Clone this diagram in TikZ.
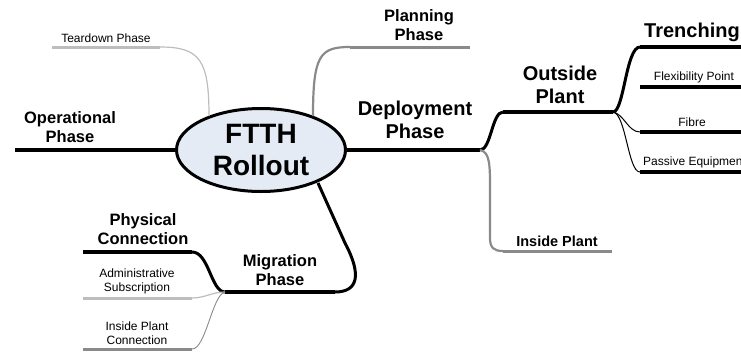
\documentclass[tikz,border=0pt]{standalone}
\usepackage{fontspec}
\setmainfont{Liberation Sans}
\usetikzlibrary{shapes.geometric}
\definecolor{rootfill}{HTML}{E5EBF5}
\definecolor{lightg}{HTML}{BDBDBD}
\definecolor{midg}{HTML}{8A8A8A}
\begin{document}
\begin{tikzpicture}[x=1pt,y=-1pt,
  mainline/.style={line width=3.5pt,black},
  thickcon/.style={line width=3pt,black},
  thincon/.style={line width=1pt,black},
  lgline/.style={line width=3pt,lightg},
  lgcon/.style={line width=1.2pt,lightg},
  mgline/.style={line width=3pt,midg},
  mgcon/.style={line width=2.2pt,midg},
  big/.style={font=\bfseries\fontsize{20}{23}\selectfont,align=center,inner sep=0pt},
  med/.style={font=\bfseries\fontsize{16.5}{19}\selectfont,align=center,inner sep=0pt},
  sml/.style={font=\fontsize{12}{13.8}\selectfont,align=center,inner sep=0pt},
]
\useasboundingbox (0,0) rectangle (741,351);

% root
\node[ellipse,draw,line width=3pt,fill=rootfill,minimum width=169pt,minimum height=83pt,inner sep=0pt,outer sep=0pt,
  font=\bfseries\fontsize{28}{32}\selectfont,align=center] (root) at (261,150) {FTTH\\Rollout};

% coordinates
\coordinate (opEnd) at (15,150);
\coordinate (tdStart) at (209,116);
\coordinate (tdA) at (160,47);
\coordinate (tdEnd) at (52,47);
\coordinate (plStart) at (313,116);
\coordinate (plA) at (350,47);
\coordinate (plEnd) at (470,47);
\coordinate (dep) at (480,150);
\coordinate (ospA) at (503,112);
\coordinate (osp) at (613,112);
\coordinate (ipA) at (503,251);
\coordinate (ipEnd) at (612,251);
\coordinate (trA) at (640,47);
\coordinate (trEnd) at (745,47);
\coordinate (fpA) at (640,87);
\coordinate (fpEnd) at (745,87);
\coordinate (fiA) at (640,132);
\coordinate (fiEnd) at (745,132);
\coordinate (peA) at (640,172);
\coordinate (peEnd) at (745,172);
\coordinate (migStart) at (318,183);
\coordinate (mig) at (225,292);
\coordinate (pcA) at (192,252);
\coordinate (pcEnd) at (83,252);
\coordinate (asA) at (192,298);
\coordinate (asEnd) at (83,298);
\coordinate (icA) at (192,349);
\coordinate (icEnd) at (83,349);

% operational
\draw[mainline] (root.west) -- (opEnd);
\node[med] (op) at (70,127) {Operational\\Phase};

% teardown
\draw[lgcon] (tdStart) .. controls (209,60) and (200,47) .. (tdA);
\draw[lgline] (tdA) -- (tdEnd);
\node[sml] (td) at (106,38) {Teardown Phase};

% planning
\draw[mgcon] (plStart) .. controls (313,55) and (320,47) .. (plA);
\draw[mgline] (plA) -- (plEnd);
\node[med] (pl) at (419,25) {Planning\\Phase};

% deployment
\draw[mainline] (root.east) -- (dep);
\node[big] (dp) at (415,120) {Deployment\\Phase};

% outside plant
\draw[thickcon] (dep) .. controls (491,150) and (492,112) .. (ospA);
\draw[mainline] (ospA) -- (osp);
\node[big] (os) at (560,85) {Outside\\Plant};

% inside plant
\draw[mgcon] (dep) .. controls (490,152) and (490,165) .. (490,190) -- (490,238) .. controls (490,248) and (494,251) .. (ipA);
\draw[mgline] (ipA) -- (ipEnd);
\node[font=\bfseries\fontsize{14.5}{17}\selectfont,inner sep=0pt] (ip) at (557,241) {Inside Plant};

% trenching
\draw[thickcon] (osp) .. controls (624,112) and (626,47) .. (trA);
\draw[mainline] (trA) -- (trEnd);
\node[font=\bfseries\fontsize{20}{23}\selectfont,anchor=west,inner sep=0pt] (tr) at (644,32) {Trenching};

% flexibility point
\draw[mainline] (fpA) -- (fpEnd);
\node[sml] (fp) at (694,77) {Flexibility Point};

% fibre
\draw[thincon] (osp) .. controls (624,114) and (628,132) .. (fiA);
\draw[mainline] (fiA) -- (fiEnd);
\node[sml] (fi) at (692,122) {Fibre};

% passive equipment
\draw[thincon] (osp) .. controls (626,114) and (628,172) .. (peA);
\draw[mainline] (peA) -- (peEnd);
\node[sml,anchor=west] (pe) at (643,162) {Passive Equipment};

% migration
\draw[thickcon] (migStart) -- (345,243) .. controls (362,275) and (358,292) .. (335,292);
\draw[mainline] (335,292) -- (mig);
\node[med] (mg) at (280,270) {Migration\\Phase};

% physical connection
\draw[thickcon] (mig) .. controls (211,292) and (209,252) .. (pcA);
\draw[mainline] (pcA) -- (pcEnd);
\node[med] (pc) at (143,229) {Physical\\Connection};

% administrative subscription
\draw[lgcon] (mig) .. controls (212,292) and (205,298) .. (asA);
\draw[lgline] (asA) -- (asEnd);
\node[sml] (as) at (137,281) {Administrative\\Subscription};

% inside plant connection
\draw[lgcon,midg,line width=0.9pt] (mig) .. controls (212,295) and (206,349) .. (icA);
\draw[mgline] (icA) -- (icEnd);
\node[sml] (ic) at (137,333) {Inside Plant\\Connection};
\end{tikzpicture}
\end{document}
